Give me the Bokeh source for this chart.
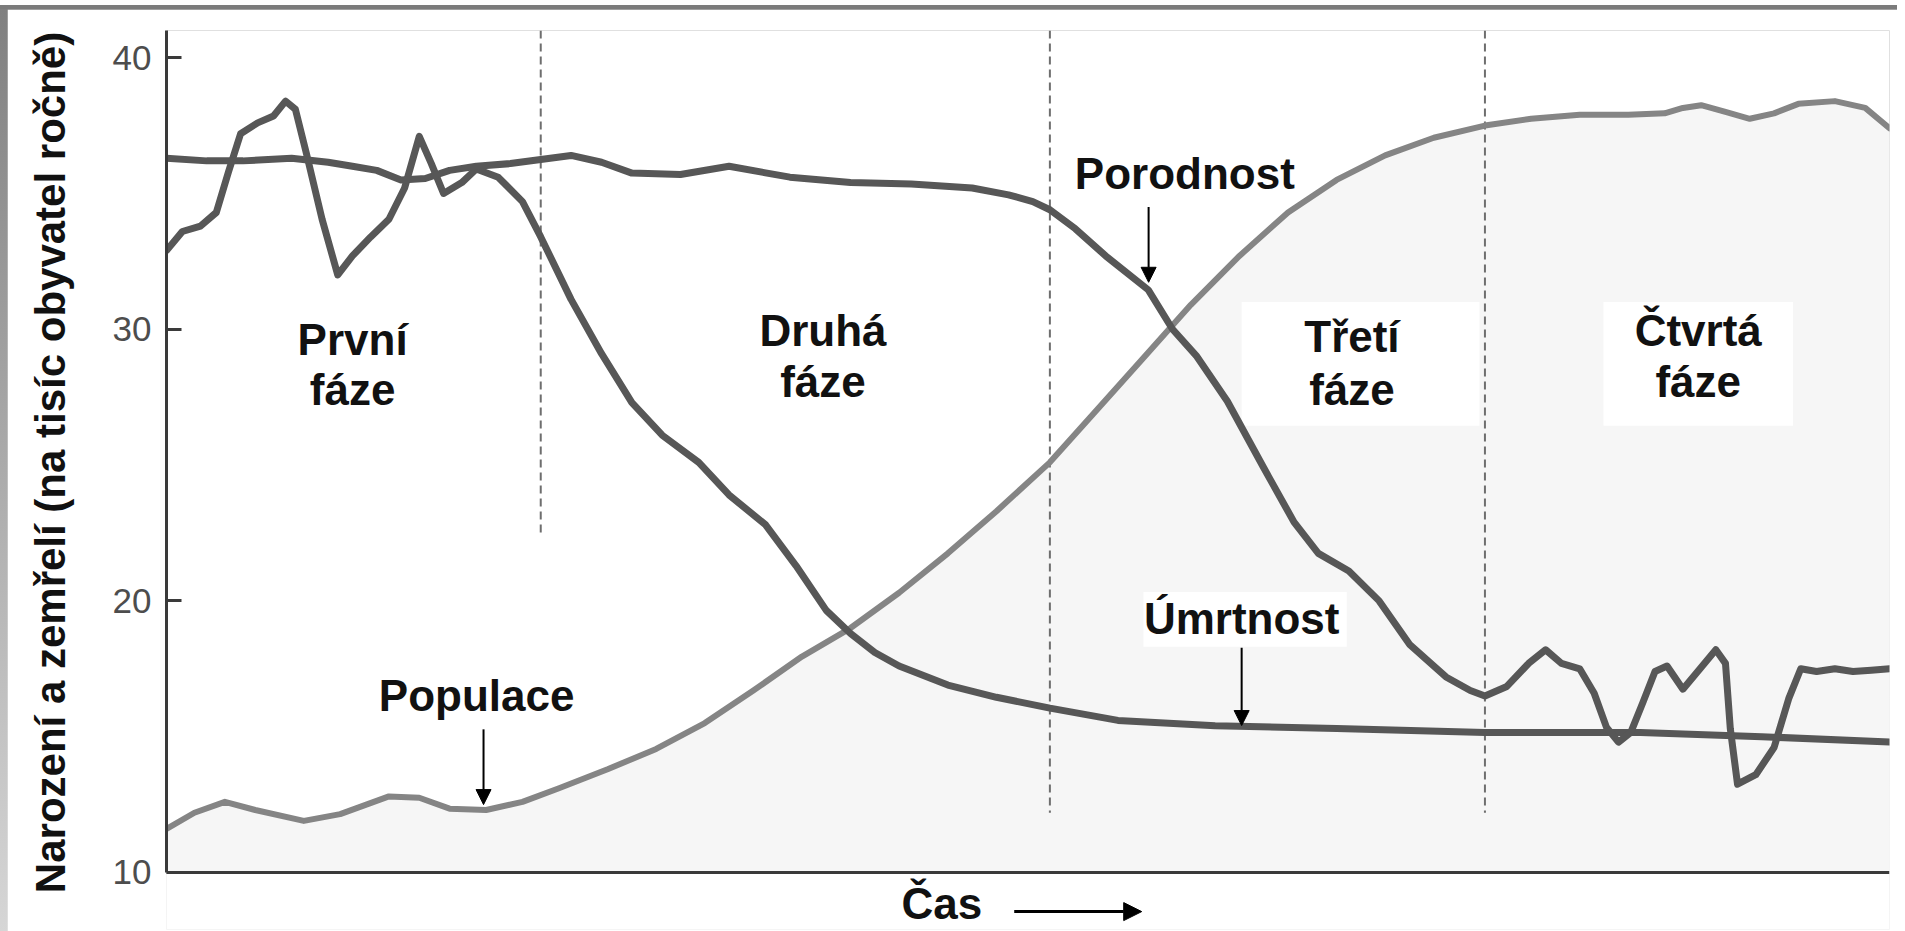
from bokeh.plotting import figure
from bokeh.layouts import column
from bokeh.models import Range1d, FixedTicker, Arrow, NormalHead, LinearAxis
from bokeh.core.properties import value
from bokeh.embed import file_html
from bokeh.resources import INLINE

# ---- data (time in arbitrary units 0..100, rates per 1000 inhabitants per year) ----
birth_x = [0, 2.33, 4.44, 7.26, 9.38, 10.79, 12.2, 13.61, 15.02, 16.43, 17.98, 19.96, 21.72, 23.48,
           25.25, 27.01, 29.83, 32.65, 36.18, 39.7, 43.23, 46.76, 48.87, 50.28, 51.27, 52.75, 54.51,
           56.98, 58.39, 59.8, 61.57, 63.68, 65.44, 66.85, 68.62, 70.38, 72.14, 74.26, 75.67, 76.52,
           77.79, 79.06, 80.04, 80.96, 82.02, 82.86, 83.57, 84.27, 84.98, 85.68, 86.39, 87.09, 88.01,
           88.93, 89.92, 90.48, 90.76, 91.18, 92.24, 93.3, 94.15, 94.85, 95.77, 96.83, 97.88, 98.94, 100]
birth_y = [36.3, 36.2, 36.2, 36.3, 36.15, 36.0, 35.85, 35.5, 35.55, 35.85, 36.0, 36.1, 36.25, 36.4,
           36.15, 35.75, 35.7, 36.0, 35.6, 35.4, 35.35, 35.2, 34.95, 34.7, 34.4, 33.7, 32.7,
           31.45, 30.0, 29.0, 27.35, 24.9, 22.9, 21.75, 21.1, 20.0, 18.4, 17.2, 16.7, 16.5,
           16.85, 17.7, 18.2, 17.7, 17.5, 16.6, 15.35, 14.8, 15.15, 16.25, 17.4, 17.6, 16.75,
           17.45, 18.2, 17.7, 15.3, 13.25, 13.6, 14.6, 16.4, 17.5, 17.4, 17.5, 17.4, 17.45, 17.5]

death_x = [0, 0.92, 1.97, 2.89, 3.6, 4.3, 5.29, 6.21, 6.91, 7.48, 8.11, 9.03, 9.94, 10.79, 11.85,
           12.91, 13.82, 14.67, 15.37, 16.08, 17.14, 17.98, 19.25, 20.66, 21.72, 23.48, 25.25, 27.01,
           28.77, 30.89, 32.65, 34.77, 36.53, 38.29, 39.7, 41.11, 42.52, 45.35, 48.17, 51.27, 55.22,
           60.86, 67.91, 76.52, 85.54, 92.59, 100]
death_y = [32.9, 33.6, 33.8, 34.3, 35.8, 37.2, 37.6, 37.85, 38.4, 38.1, 36.5, 34.05, 32.0, 32.7, 33.4,
           34.05, 35.2, 37.1, 36.1, 35.0, 35.4, 35.9, 35.6, 34.7, 33.4, 31.1, 29.1, 27.3,
           26.1, 25.1, 23.9, 22.8, 21.3, 19.65, 18.8, 18.1, 17.6, 16.9, 16.45, 16.05, 15.6,
           15.4, 15.3, 15.15, 15.15, 15.0, 14.8]

pop_x = [0, 1.62, 3.39, 5.15, 7.97, 10.08, 12.91, 14.67, 16.43, 18.55, 20.66, 22.78, 25.6, 28.42,
         31.24, 34.06, 36.88, 39.7, 42.52, 45.35, 48.17, 51.27, 53.81, 56.63, 59.45, 62.27, 65.09,
         67.91, 70.73, 73.55, 76.52, 79.2, 82.02, 84.84, 86.95, 88.01, 89.07, 90.48, 91.89, 93.3,
         94.71, 96.83, 98.59, 100]
pop_y = [11.6, 12.2, 12.6, 12.3, 11.9, 12.15, 12.8, 12.75, 12.35, 12.3, 12.6, 13.1, 13.8, 14.55,
         15.5, 16.7, 17.95, 19.0, 20.3, 21.75, 23.3, 25.1, 26.9, 28.9, 30.9, 32.7, 34.3,
         35.5, 36.4, 37.05, 37.5, 37.75, 37.9, 37.9, 37.95, 38.15, 38.25, 38.0, 37.75, 37.95,
         38.3, 38.4, 38.15, 37.4]

y_ticks = [10, 20, 30, 40]
y_title = "Narození a zemřelí (na tisíc obyvatel ročně)"
x_title = "Čas"

phase_x = [21.72, 51.27, 76.52]
phase_dash_bottom = [22.4, 12.2, 12.2]

phase_names = ["První", "Druhá", "Třetí", "Čtvrtá"]
phase_label_x = [10.8, 38.1, 68.8, 88.9]
phase_label_y1 = [29.64, 29.96, 29.73, 29.96]
phase_label_y2 = [27.8, 28.08, 27.8, 28.08]

series_names = ["Porodnost", "Úmrtnost", "Populace"]
series_label_x = [59.1, 62.4, 18.0]
series_label_y = [35.72, 19.35, 16.5]
arrow_x = [57.0, 62.4, 18.4]
arrow_y_start = [34.5, 18.27, 15.27]
arrow_y_end = [31.73, 15.41, 12.5]

# white boxes behind some labels: left, right, top, bottom
box_left = [62.4, 83.4, 56.7]
box_right = [76.2, 94.4, 68.5]
box_top = [31.0, 31.0, 20.33]
box_bottom = [26.45, 26.45, 18.31]

# "Čas ->" under the axis (time title and its arrow)
x_title_pos = (45.0, 8.85)
time_arrow_x = [49.2, 56.6]
time_arrow_y = 8.56

Y_AXIS_MIN, Y_MAX = 10, 41
Y_FRAME_MIN = 7.901          # frame extends below the axis to hold the time title
FONT = value("Liberation Sans")

p = figure(width=1890, height=922, output_backend="svg", toolbar_location=None,
           x_range=Range1d(0, 100), y_range=Range1d(Y_FRAME_MIN, Y_MAX), x_axis_location=None,
           min_border_left=159, min_border_right=8, min_border_top=21, min_border_bottom=2)
p.background_fill_color = "white"
p.border_fill_color = "white"
p.outline_line_color = None
p.grid.visible = False

# population fill
p.varea(x=pop_x, y1=[Y_AXIS_MIN] * len(pop_x), y2=pop_y, fill_color="#f6f6f6")

# white label boxes
p.quad(left=box_left, right=box_right, top=box_top, bottom=box_bottom,
       fill_color="white", line_color=None)

# phase dividers
p.segment(x0=phase_x, y0=[Y_MAX] * 3, x1=phase_x, y1=phase_dash_bottom,
          line_color="#6e6e6e", line_width=2, line_dash="8 5")

# curves
p.line(pop_x, pop_y, line_color="#858585", line_width=6, line_join="round", line_cap="round")
p.line(death_x, death_y, line_color="#575757", line_width=7, line_join="round", line_cap="round")
p.line(birth_x, birth_y, line_color="#575757", line_width=7, line_join="round", line_cap="round")

txt = dict(text_font=FONT, text_font_style="bold", text_font_size="44px", text_align="center",
           text_baseline="alphabetic", text_color="#111111")
p.text(x=phase_label_x, y=phase_label_y1, text=phase_names, **txt)
p.text(x=phase_label_x, y=phase_label_y2, text=["fáze"] * 4, **txt)
p.text(x=series_label_x, y=series_label_y, text=series_names, **txt)
for ax, ys, ye in zip(arrow_x, arrow_y_start, arrow_y_end):
    p.add_layout(Arrow(x_start=ax, y_start=ys, x_end=ax, y_end=ye, line_color="black", line_width=2,
                       end=NormalHead(size=15, fill_color="black", line_color="black")))

# time title and arrow
p.text(x=[x_title_pos[0]], y=[x_title_pos[1]], text=[x_title], **txt)
p.add_layout(Arrow(x_start=time_arrow_x[0], y_start=time_arrow_y, x_end=time_arrow_x[1],
                   y_end=time_arrow_y, line_color="black", line_width=3,
                   end=NormalHead(size=18, fill_color="black", line_color="black")))

# x axis: a plain line at y = 10
xaxis = LinearAxis(fixed_location=Y_AXIS_MIN, ticker=FixedTicker(ticks=[]),
                   axis_line_color="#3a3a3a", axis_line_width=3,
                   major_tick_out=0, major_tick_in=0, minor_tick_out=0, minor_tick_in=0)
p.add_layout(xaxis, "below")

# y axis
p.yaxis.bounds = (Y_AXIS_MIN, Y_MAX)
p.yaxis.ticker = FixedTicker(ticks=y_ticks)
p.yaxis.axis_line_color = "#3a3a3a"
p.yaxis.axis_line_width = 3
p.yaxis.major_tick_in = 15
p.yaxis.major_tick_out = 0
p.yaxis.major_tick_line_color = "#3a3a3a"
p.yaxis.major_tick_line_width = 3
p.yaxis.minor_tick_line_color = None
p.yaxis.major_label_text_font = "Liberation Sans"
p.yaxis.major_label_text_font_size = "35px"
p.yaxis.major_label_text_color = "#4d4d4d"
p.yaxis.major_label_standoff = 15
# leading no-break spaces lift the title so it is centred on the 10-41 axis, not on the taller frame
p.yaxis.axis_label = "\u00a0\u00a0\u00a0" + y_title
p.yaxis.axis_label_text_font = "Liberation Sans"
p.yaxis.axis_label_text_font_style = "bold"
p.yaxis.axis_label_text_font_size = "42px"
p.yaxis.axis_label_text_color = "#111111"
p.yaxis.axis_label_standoff = 36

layout = column(p, spacing=0,
                styles={"margin-top": "5px", "border-top": "4px solid #7b7b7b",
                        "padding-left": "7px",
                        "background": "linear-gradient(to bottom, #808080, #d6d6d6)"})

open("out.html", "w").write(file_html(layout, INLINE))
